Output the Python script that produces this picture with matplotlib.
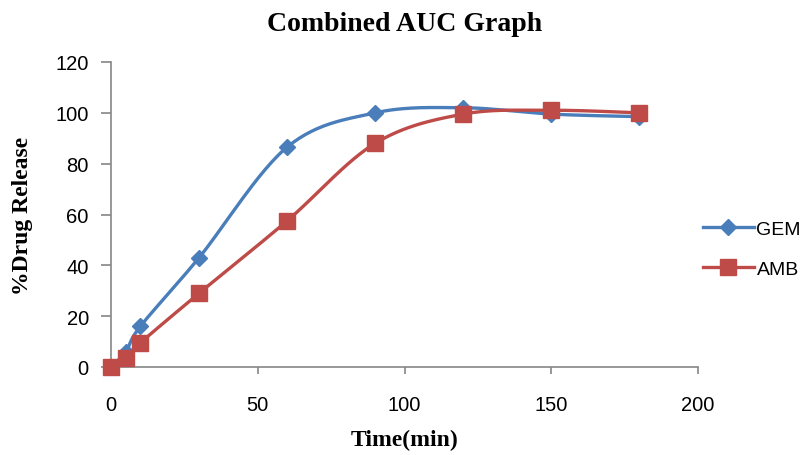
import matplotlib.pyplot as plt
import numpy as np

# datos
tiempo = [0, 5, 10, 30, 60, 90, 120, 150, 180]
gem = [0, 6, 16, 43, 86.5, 100, 102, 99.5, 98.5]
amb = [0, 3.5, 9.5, 29, 57.5, 88, 99.5, 101, 100]


def suavizar(x, y, n=30):
    # curva tipo Catmull-Rom como la linea suavizada de Excel
    x = np.asarray(x, float)
    y = np.asarray(y, float)
    px = np.concatenate([[x[0]], x, [x[-1]]])
    py = np.concatenate([[y[0]], y, [y[-1]]])
    xs, ys = [], []
    t = np.linspace(0, 1, n)
    for i in range(1, len(px) - 2):
        p0, p1, p2, p3 = [np.array([px[j], py[j]]) for j in range(i - 1, i + 3)]
        m1 = (p2 - p0) / 6.0
        m2 = (p3 - p1) / 6.0
        b0, b1, b2, b3 = p1, p1 + m1, p2 - m2, p2
        pts = ((1 - t) ** 3)[:, None] * b0 + (3 * (1 - t) ** 2 * t)[:, None] * b1 \
            + (3 * (1 - t) * t ** 2)[:, None] * b2 + (t ** 3)[:, None] * b3
        xs.extend(pts[:, 0])
        ys.extend(pts[:, 1])
    return xs, ys


azul = '#4A7EBB'
rojo = '#BE4B48'

fig = plt.figure(figsize=(8.07, 4.56), dpi=100)
ax = fig.add_axes([111 / 807, 1 - 368 / 456, (698 - 111) / 807, (368 - 63) / 456])

sx, sy = suavizar(tiempo, gem)
ax.plot(sx, sy, color=azul, lw=2.4, zorder=2)
ax.plot(tiempo, gem, ls='none', marker='D', ms=8, color=azul, zorder=3)
sx, sy = suavizar(tiempo, amb)
ax.plot(sx, sy, color=rojo, lw=2.4, zorder=2)
ax.plot(tiempo, amb, ls='none', marker='s', ms=11, color=rojo, zorder=4)

# entradas de la leyenda
ax.plot([], [], color=azul, lw=2.4, marker='D', ms=8, label='GEM')
ax.plot([], [], color=rojo, lw=2.4, marker='s', ms=11, label='AMB')

ax.set_xlim(0, 200)
ax.set_ylim(0, 120)
ax.set_xticks(range(0, 201, 50))
ax.set_yticks(range(0, 121, 20))
for s in ['top', 'right']:
    ax.spines[s].set_visible(False)
for s in ['left', 'bottom']:
    ax.spines[s].set_color('#868686')
    ax.spines[s].set_linewidth(1.2)
    ax.spines[s].set_zorder(1)
ax.tick_params(axis='y', direction='out', length=7, width=1.2, color='#868686', labelsize=14.5, pad=9)
ax.tick_params(axis='x', direction='out', length=5, width=1.2, color='#868686', labelsize=14.5, pad=15)
for lab in ax.get_xticklabels() + ax.get_yticklabels():
    lab.set_fontfamily('Liberation Sans')

ax.set_title('Combined AUC Graph', fontsize=20, fontweight='bold', family='Liberation Serif', pad=23)
ax.set_xlabel('Time(min)', fontsize=17, fontweight='bold', family='Liberation Serif', labelpad=11)
ax.set_ylabel('%Drug Release', fontsize=17, fontweight='bold', family='Liberation Serif', labelpad=16)

ax.legend(loc='center left', bbox_to_anchor=(703 / 807, 1 - 250 / 456),
          bbox_transform=fig.transFigure, frameon=False, borderpad=0, borderaxespad=0,
          prop={'family': 'Liberation Sans', 'size': 14}, handlelength=2.6,
          labelspacing=1.15, handletextpad=0.15)
for ln in ax.lines:
    ln.set_clip_on(False)

fig.savefig('out.png', dpi=100)
